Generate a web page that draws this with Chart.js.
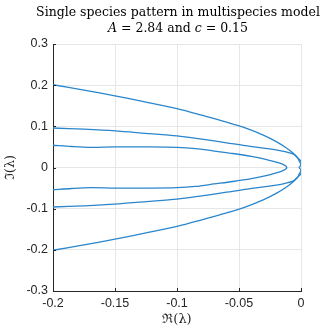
<!DOCTYPE html>
<html>
<head>
<meta charset="utf-8">
<script src="https://cdn.jsdelivr.net/npm/chart.js@4/dist/chart.umd.min.js"></script>
<style>
  html,body{margin:0;padding:0;background:#fff;}
  #wrap{position:relative;width:321px;height:329px;background:#fff;}
  #title{position:absolute;top:4px;left:178px;transform:translateX(-50%);white-space:nowrap;text-align:center;
    font-family:"DejaVu Serif",serif;font-size:12.5px;line-height:16px;color:#000;}
</style>
</head>
<body>
<div id="wrap">
  <canvas id="c" width="321" height="329"></canvas>
  <div id="title">Single species pattern in multispecies model<br><i>A</i> = 2.84 and <i>c</i> = 0.15</div>
</div>
<script>
// Curve 1 (outer branch): real and imaginary parts of λ
const outerRe = [-0.2,-0.175,-0.15,-0.125,-0.1,-0.08,-0.06,-0.045,-0.03,-0.02,-0.012,-0.0065,-0.003,-0.0005,0.0005,0,-0.0015,0,0.0005,-0.0005,-0.003,-0.0065,-0.012,-0.02,-0.03,-0.045,-0.06,-0.08,-0.1,-0.125,-0.15,-0.175,-0.2];
const outerIm = [0.201,0.188,0.174,0.159,0.143,0.127,0.110,0.096,0.078,0.063,0.048,0.035,0.024,0.017,0.012,0.006,0,-0.006,-0.012,-0.017,-0.024,-0.035,-0.048,-0.063,-0.078,-0.096,-0.110,-0.127,-0.143,-0.159,-0.174,-0.188,-0.201];
// Curve 2 (middle branch)
const middleRe = [-0.2,-0.175,-0.15,-0.125,-0.1,-0.08,-0.06,-0.045,-0.03,-0.02,-0.012,-0.0065,-0.003,-0.0015,0,0.0005,0,-0.0015,-0.003,-0.0065,-0.012,-0.02,-0.03,-0.045,-0.06,-0.08,-0.1,-0.125,-0.15,-0.175,-0.2];
const middleIm = [0.096,0.093,0.089,0.083,0.077,0.069,0.060,0.053,0.047,0.043,0.038,0.033,0.025,0.016,0.008,0,-0.008,-0.016,-0.025,-0.033,-0.038,-0.043,-0.047,-0.053,-0.060,-0.069,-0.077,-0.083,-0.089,-0.093,-0.096];
// Curve 3 (inner branch)
const innerRe = [-0.2,-0.185,-0.17,-0.15,-0.125,-0.1,-0.085,-0.07,-0.055,-0.04,-0.03,-0.02,-0.015,-0.012,-0.0115,-0.012,-0.015,-0.02,-0.03,-0.04,-0.055,-0.07,-0.085,-0.1,-0.125,-0.15,-0.17,-0.185,-0.2];
const innerIm = [0.054,0.051,0.049,0.050,0.050,0.049,0.046,0.040,0.034,0.027,0.021,0.013,0.008,0.003,0,-0.003,-0.008,-0.013,-0.021,-0.027,-0.034,-0.040,-0.046,-0.049,-0.050,-0.050,-0.049,-0.051,-0.054];

const xTickValues = [-0.2,-0.15,-0.1,-0.05,0];
const xTickLabels = ['-0.2','-0.15','-0.1','-0.05','0'];
const yTickValues = [-0.3,-0.2,-0.1,0,0.1,0.2,0.3];
const yTickLabels = ['-0.3','-0.2','-0.1','0','0.1','0.2','0.3'];

const toPts = (re, im) => re.map((r, i) => ({x: r, y: im[i]}));
const lineColor = '#2a86cc';
const mk = (re, im) => ({data: toPts(re, im), showLine: true, borderColor: lineColor, borderWidth: 1.3,
  pointRadius: 0, fill: false, tension: 0.3});

const innerTicks = {
  id: 'innerTicks',
  afterDraw(chart) {
    const ctx = chart.ctx, xs = chart.scales.x, ys = chart.scales.y, a = chart.chartArea;
    ctx.save();
    ctx.strokeStyle = '#262626'; ctx.lineWidth = 1;
    ctx.beginPath();
    xs.ticks.forEach((t, i) => { const p = Math.round(xs.getPixelForTick(i)) + 0.5; ctx.moveTo(p, a.bottom); ctx.lineTo(p, a.bottom - 3); });
    ys.ticks.forEach((t, i) => { const p = Math.round(ys.getPixelForTick(i)) + 0.5; ctx.moveTo(a.left, p); ctx.lineTo(a.left + 3, p); });
    ctx.stroke();
    ctx.restore();
  }
};

new Chart(document.getElementById('c'), {
  type: 'scatter',
  data: { datasets: [mk(outerRe, outerIm), mk(middleRe, middleIm), mk(innerRe, innerIm)] },
  options: {
    responsive: false, animation: false, devicePixelRatio: 1,
    layout: { padding: { left: 0, right: 20, top: 44, bottom: 0 } },
    plugins: { legend: { display: false }, tooltip: { enabled: false }, title: { display: false } },
    scales: {
      x: {
        type: 'linear', min: -0.2, max: 0,
        afterBuildTicks: s => { s.ticks = xTickValues.map(v => ({value: v})); },
        afterFit: s => { s.height = 38; },
        ticks: { callback: (v, i) => xTickLabels[i], color: '#262626', padding: 5,
          font: { family: 'Liberation Sans', size: 12.5 }, maxRotation: 0, autoSkip: false },
        grid: { color: '#e6e6e6', drawTicks: false, lineWidth: 1 },
        border: { color: '#262626', width: 1 },
        title: { display: true, text: 'ℜ(λ)', color: '#262626', padding: { top: 0, bottom: 2 },
          font: { family: 'DejaVu Serif', size: 13 } }
      },
      y: {
        type: 'linear', min: -0.3, max: 0.3,
        afterBuildTicks: s => { s.ticks = yTickValues.map(v => ({value: v})); },
        afterFit: s => { s.width = 53; },
        ticks: { callback: (v, i) => yTickLabels[i], color: '#262626', padding: 5,
          font: { family: 'Liberation Sans', size: 12.5 }, autoSkip: false },
        grid: { color: '#e6e6e6', drawTicks: false, lineWidth: 1 },
        border: { color: '#262626', width: 1 },
        title: { display: true, text: 'ℑ(λ)', color: '#262626', padding: { top: 3, bottom: 0 },
          font: { family: 'DejaVu Serif', size: 13 } }
      }
    }
  },
  plugins: [innerTicks]
});
</script>
</body>
</html>
